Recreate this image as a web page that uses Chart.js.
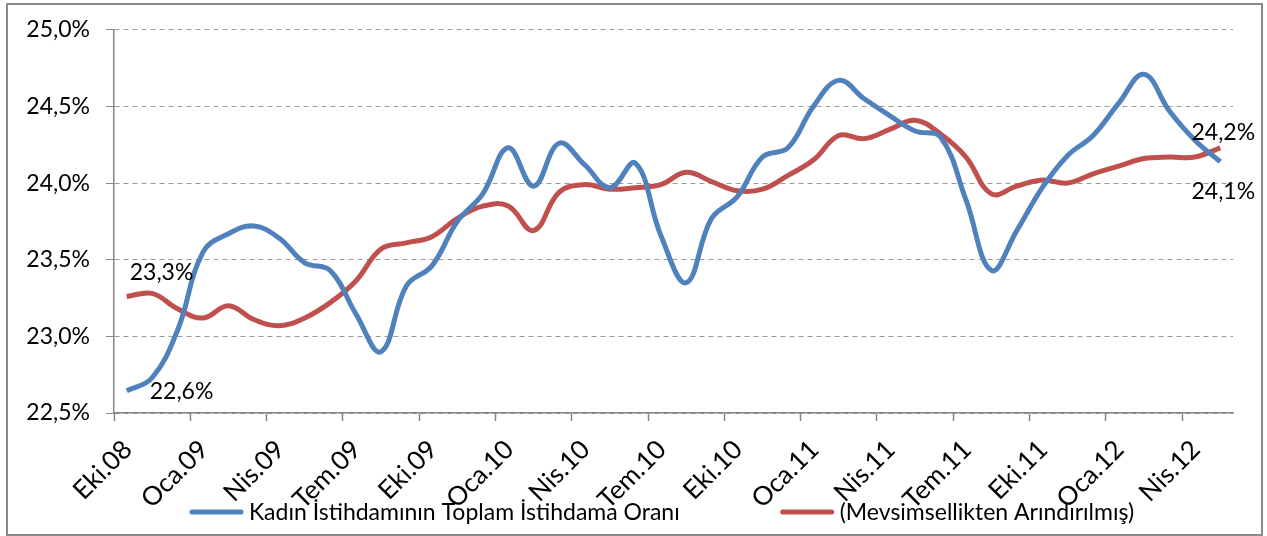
<!DOCTYPE html>
<html>
<head>
<meta charset="utf-8">
<script src="https://cdn.jsdelivr.net/npm/chart.js@4/dist/chart.umd.min.js"></script>
<style>
    body { margin: 0; background: #ffffff; }
    canvas { display: block; }
</style>
</head>
<body>
<canvas id="graphIstihdam" width="1267" height="536"></canvas>
<script>

//Donnees - mois (Eki.08 -> May.12)
var tab_Mois = [
    'Eki.08', 'Kas.08', 'Ara.08',
    'Oca.09', 'Şub.09', 'Mar.09', 'Nis.09', 'May.09', 'Haz.09', 'Tem.09', 'Ağu.09', 'Eyl.09', 'Eki.09', 'Kas.09', 'Ara.09',
    'Oca.10', 'Şub.10', 'Mar.10', 'Nis.10', 'May.10', 'Haz.10', 'Tem.10', 'Ağu.10', 'Eyl.10', 'Eki.10', 'Kas.10', 'Ara.10',
    'Oca.11', 'Şub.11', 'Mar.11', 'Nis.11', 'May.11', 'Haz.11', 'Tem.11', 'Ağu.11', 'Eyl.11', 'Eki.11', 'Kas.11', 'Ara.11',
    'Oca.12', 'Şub.12', 'Mar.12', 'Nis.12', 'May.12'
];

//Kadin istihdaminin toplam istihdama orani (%)
var tab_Oran = [
    22.645, 22.73, 23.04,
    23.55, 23.67, 23.72, 23.64, 23.48, 23.43, 23.15, 22.90, 23.33, 23.46, 23.75, 23.93,
    24.23, 23.98, 24.26, 24.12, 23.97, 24.13, 23.66, 23.35, 23.77, 23.91, 24.17, 24.23,
    24.50, 24.67, 24.55, 24.44, 24.34, 24.30, 23.89, 23.43, 23.69, 23.97, 24.18, 24.31,
    24.52, 24.71, 24.47, 24.28, 24.14
];

//Mevsimsellikten arindirilmis (%)
var tab_OranMA = [
    23.26, 23.28, 23.18,
    23.12, 23.20, 23.11, 23.07, 23.12, 23.22, 23.36, 23.57, 23.61, 23.65, 23.77, 23.85,
    23.85, 23.69, 23.94, 23.99, 23.96, 23.97, 23.99, 24.07, 24.01, 23.95, 23.96, 24.05,
    24.15, 24.31, 24.29, 24.35, 24.41, 24.32, 24.17, 23.93, 23.98, 24.02, 24.00, 24.06,
    24.11, 24.16, 24.17, 24.17, 24.23
];

var tab_Series = ['Kadın İstihdamının Toplam İstihdama Oranı', '(Mevsimsellikten Arındırılmış)'];
var tab_Couleurs = ['#4F81BD', '#C0504D'];

function FormatPct(v) {
    return v.toFixed(1).replace('.', ',') + '%';
}

Chart.defaults.font.family = 'Lato';
Chart.defaults.color = '#000000';

//Cadre gris autour du graphique
var pluginCadre = {
    id: 'cadre',
    beforeDraw: function (chart) {
        var ctx = chart.ctx;
        ctx.save();
        ctx.fillStyle = '#ffffff';
        ctx.fillRect(0, 0, chart.width, chart.height);
        ctx.strokeStyle = '#8a8a8a';
        ctx.lineWidth = 2;
        ctx.strokeRect(7, 4, chart.width - 12, chart.height - 5);
        ctx.restore();
    }
};

//Etiquettes premier / dernier point
var pluginEtiquettes = {
    id: 'etiquettes',
    afterDatasetsDraw: function (chart) {
        var ctx = chart.ctx;
        var blue = chart.getDatasetMeta(0).data;
        var red = chart.getDatasetMeta(1).data;
        var n = tab_Oran.length - 1;
        ctx.save();
        ctx.font = '23px Lato';
        ctx.fillStyle = '#000000';
        ctx.textBaseline = 'middle';
        ctx.textAlign = 'left';
        ctx.fillText(FormatPct(tab_Oran[0]), blue[0].x + 23, blue[0].y + 1);
        ctx.fillText(FormatPct(tab_OranMA[0]), red[0].x + 3, red[0].y - 24);
        ctx.textAlign = 'center';
        ctx.fillText(FormatPct(tab_Oran[n]), blue[n].x + 3, blue[n].y + 30);
        ctx.fillText(FormatPct(tab_OranMA[n]), red[n].x + 3, red[n].y - 15);
        ctx.restore();
    }
};

//Legende en bas
var pluginLegende = {
    id: 'legende',
    afterDraw: function (chart) {
        var ctx = chart.ctx;
        var y = 512;
        var sample = 53, gapText = 6, gapItem = 101;
        ctx.save();
        ctx.font = '23px Lato';
        ctx.textBaseline = 'middle';
        var w0 = ctx.measureText(tab_Series[0]).width;
        var w1 = ctx.measureText(tab_Series[1]).width;
        var total = sample + gapText + w0 + gapItem + sample + gapText + w1;
        var x = 662 - total / 2;
        for (var i = 0; i < 2; i++) {
            ctx.strokeStyle = tab_Couleurs[i];
            ctx.lineWidth = 5;
            ctx.lineCap = 'round';
            ctx.beginPath();
            ctx.moveTo(x + 2, y);
            ctx.lineTo(x + sample - 2, y);
            ctx.stroke();
            x += sample + gapText;
            ctx.fillStyle = '#000000';
            ctx.textAlign = 'left';
            ctx.fillText(tab_Series[i], x, y + 1);
            x += (i === 0 ? w0 : w1) + gapItem;
        }
        ctx.restore();
    }
};

function DisplayGraphIstihdam(graphId) {
    var ctx = document.getElementById(graphId).getContext('2d');
    var chart = new Chart(ctx, {
        type: 'line',
        data: {
            labels: tab_Mois,
            datasets: [{
                label: tab_Series[0],
                data: tab_Oran,
                borderColor: tab_Couleurs[0],
                backgroundColor: tab_Couleurs[0],
                borderWidth: 5,
                pointRadius: 0,
                tension: 0.4,
                fill: false
            }, {
                label: tab_Series[1],
                data: tab_OranMA,
                borderColor: tab_Couleurs[1],
                backgroundColor: tab_Couleurs[1],
                borderWidth: 5,
                pointRadius: 0,
                tension: 0.4,
                fill: false
            }]
        },
        options: {
            responsive: false,
            animation: false,
            layout: {
                padding: { left: 10, right: 34, top: 29, bottom: 0 }
            },
            plugins: {
                legend: { display: false },
                tooltip: { enabled: false }
            },
            scales: {
                x: {
                    offset: true,
                    afterFit: function (scale) { scale.height = 123; },
                    grid: {
                        offset: true,
                        drawOnChartArea: false,
                        drawTicks: true,
                        tickLength: 8,
                        tickWidth: 1.5,
                        tickColor: function (c) { return c.index % 3 === 0 ? '#868686' : 'rgba(0,0,0,0)'; }
                    },
                    border: { display: true, color: '#868686', width: 1.5 },
                    ticks: {
                        autoSkip: false,
                        maxRotation: 45,
                        minRotation: 45,
                        padding: 13,
                        labelOffset: 1,
                        font: { size: 26 },
                        callback: function (val, index) {
                            return index % 3 === 0 ? this.getLabelForValue(val) : '';
                        }
                    }
                },
                y: {
                    min: 22.5,
                    max: 25,
                    afterFit: function (scale) { scale.width = 104; },
                    grid: {
                        color: '#9a9a9a',
                        lineWidth: 1,
                        tickLength: 8,
                        tickColor: '#868686'
                    },
                    border: { display: true, color: '#868686', width: 1.5, dash: [5, 4] },
                    ticks: {
                        stepSize: 0.5,
                        padding: 16,
                        font: { size: 23 },
                        callback: function (v) { return FormatPct(v); }
                    }
                }
            }
        },
        plugins: [pluginCadre, pluginEtiquettes, pluginLegende]
    });
}

DisplayGraphIstihdam('graphIstihdam');
</script>
</body>
</html>
